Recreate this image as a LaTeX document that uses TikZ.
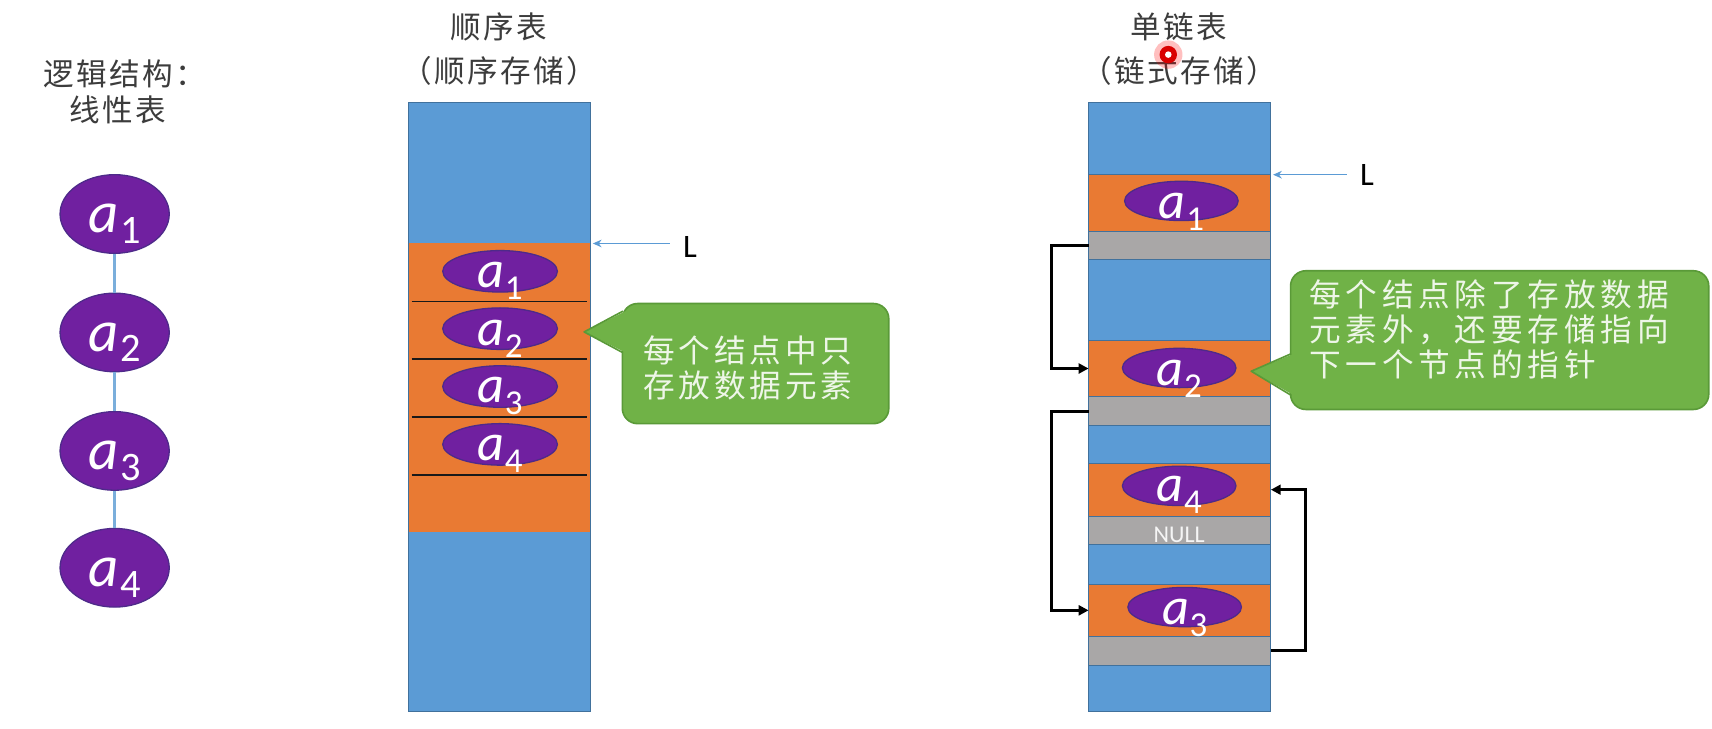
\documentclass[tikz,border=0pt]{standalone}
\usepackage{fontspec}
\setmainfont{Carlito}
\newfontfamily\cjkT[LetterSpace=8]{Noto Sans CJK SC}
\newfontfamily\cjkA[LetterSpace=12]{Noto Sans CJK SC}
\newfontfamily\cjkB[LetterSpace=15]{Noto Sans CJK SC}
\usetikzlibrary{shapes.geometric,arrows.meta}
\definecolor{cblue}{HTML}{5B9BD5}
\definecolor{cbord}{HTML}{41719C}
\definecolor{corange}{HTML}{E97A33}
\definecolor{cgray}{HTML}{A9A7A7}
\definecolor{cpurple}{HTML}{7020A0}
\definecolor{cpurpled}{HTML}{4E2A8A}
\definecolor{cgreen}{HTML}{70B247}
\definecolor{cgreend}{HTML}{5A9A38}
\definecolor{ctext}{HTML}{3C3C3C}
\definecolor{ccall}{HTML}{EEF6E8}
\definecolor{cline}{HTML}{7AAEDB}
\newcommand\bigA[1]{{\fontsize{54}{54}\selectfont\itshape a\upshape\kern1pt\raisebox{-10pt}{\fontsize{37}{37}\selectfont #1}}}
\newcommand\midA[1]{{\fontsize{48}{48}\selectfont\itshape a\upshape\kern0.5pt\raisebox{-11pt}{\fontsize{32}{32}\selectfont #1}}}
\tikzset{
  cell/.style={draw=cbord, line width=0.8pt, minimum width=167pt, inner sep=0pt, outer sep=0pt},
  bluec/.style={cell, fill=cblue},
  orangec/.style={cell, fill=corange},
  grayc/.style={cell, fill=cgray},
  bigell/.style={ellipse, fill=cpurple, draw=cpurpled, line width=1.2pt, inner sep=0pt, minimum width=100pt, minimum height=72pt},
  midell/.style={ellipse, fill=cpurple, draw=cpurpled, line width=1.2pt, inner sep=0pt, minimum width=105pt, minimum height=38pt},
  linkell/.style={midell, minimum width=104pt, minimum height=36pt},
  lab/.style={text=white, inner sep=0pt, anchor=base},
  title/.style={text=ctext, inner sep=0pt, font=\cjkT\fontsize{28}{34}\selectfont},
  vline/.style={draw=cline, line width=2.5pt},
  sepline/.style={draw=black!90, line width=1.5pt},
  larrow/.style={draw=cblue, line width=1.3pt, -{Stealth[length=8pt,width=7pt]}},
  link/.style={draw=black, line width=2.6pt, -{Triangle[length=9pt,width=9pt]}},
  callbox/.style={fill=cgreen, draw=cgreend, line width=1.5pt, rounded corners=14pt},
  calltext/.style={text=ccall, inner sep=0pt, align=left, anchor=west},
  Lnode/.style={inner sep=0pt, font=\fontsize{30}{30}\selectfont}
}
\begin{document}
\begin{tikzpicture}[x=1pt,y=-1pt]
\fill[white] (0,0) rectangle (1568,667);
\useasboundingbox (0,0) rectangle (1568,667);

% ---------- left: logical structure ----------
\node[title] (tl1) at (114,68) {逻辑结构：};
\node[title] (tl2) at (108,101) {线性表};
\node[bigell] (l1) at (105,196) {};
\node[bigell] (l2) at (105,304.5) {};
\node[bigell] (l3) at (105,413) {};
\node[bigell] (l4) at (105,520) {};
\draw[vline] (l1.south) -- (l2.north);
\draw[vline] (l2.south) -- (l3.north);
\draw[vline] (l3.south) -- (l4.north);
\node[lab] (lt1) at ([yshift=-17pt]l1.center) {\bigA{1}};
\node[lab] (lt2) at ([yshift=-17pt]l2.center) {\bigA{2}};
\node[lab] (lt3) at ([yshift=-17pt]l3.center) {\bigA{3}};
\node[lab] (lt4) at ([yshift=-17pt]l4.center) {\bigA{4}};

% ---------- middle: sequential storage ----------
\node[title] (ts1) at (457,25) {顺序表};
\node[title] (ts2) at (457,65) {（顺序存储）};
\node[bluec, minimum height=129pt] (sb0) at (457.5,158.5) {};
\node[bluec, minimum height=165pt] (sb1) at (457.5,569.5) {};
\node[orangec, draw=none, minimum height=264pt] (so) at (457.5,355) {};
\draw[cbord, line width=0.8pt] (so.north west) -- (so.south west) (so.north east) -- (so.south east);
\draw[sepline] (377,276) -- (538,276);
\draw[sepline] (377,329) -- (538,329);
\draw[sepline] (377,382) -- (538,382);
\draw[sepline] (377,435) -- (538,435);
\node[midell] (s1) at (458,248.5) {};
\node[midell] (s2) at (458,301) {};
\node[midell] (s3) at (458,354) {};
\node[midell] (s4) at (458,407) {};
\node[lab] (st1) at ([yshift=-15pt]s1.center) {\midA{1}};
\node[lab] (st2) at ([yshift=-15pt]s2.center) {\midA{2}};
\node[lab] (st3) at ([yshift=-15pt]s3.center) {\midA{3}};
\node[lab] (st4) at ([yshift=-15pt]s4.center) {\midA{4}};
\node[Lnode] (L1) at (632,226) {L};
\draw[larrow, shorten >=2pt] ([xshift=-12pt]L1.west |- so.north east) -- (so.north east);
% callout 1
\node[callbox, minimum width=244pt, minimum height=110pt, inner sep=0pt] (c1) at (692,333) {};
\fill[cgreen] (535,304) -- (573,285) -- (573,323) -- cycle;
\draw[cgreend, line width=1.5pt, line join=round] (570.5,285) -- (535,304) -- (570.5,323);
\node[calltext, font=\cjkA\fontsize{29}{31.5}\selectfont] (c1t) at (589,337) {每个结点中只\\存放数据元素};

% ---------- right: linked storage ----------
\node[title] (tr1) at (1080,25) {单链表};
\node[title] (tr2) at (1080,65) {（链式存储）};
\node[bluec, minimum height=66pt] (b0) at (1080.5,127) {};
\node[orangec, minimum height=52pt] (o1) at (1080.5,186) {};
\node[grayc, minimum height=26pt] (g1) at (1080.5,225) {};
\node[bluec, minimum height=74pt] (b1) at (1080.5,275) {};
\node[orangec, minimum height=51pt] (o2) at (1080.5,337.5) {};
\node[grayc, minimum height=27pt] (g2) at (1080.5,376.5) {};
\node[bluec, minimum height=34pt] (b2) at (1080.5,407) {};
\node[orangec, minimum height=49pt] (o4) at (1080.5,448.5) {};
\node[grayc, minimum height=26pt] (g4) at (1080.5,486) {};
\node[bluec, minimum height=36pt] (b3) at (1080.5,517) {};
\node[orangec, minimum height=48pt] (o3) at (1080.5,559) {};
\node[grayc, minimum height=26pt] (g3) at (1080.5,596) {};
\node[bluec, minimum height=43pt] (b4) at (1080.5,630.5) {};
\node[linkell] (r1) at (1082,184) {};
\node[linkell] (r2) at (1080,337) {};
\node[linkell] (r4) at (1080,445) {};
\node[linkell] (r3) at (1085,556) {};
\node[lab] (rt1) at ([yshift=-16pt]r1.center) {\midA{1}};
\node[lab] (rt2) at ([yshift=-16pt]r2.center) {\midA{2}};
\node[lab] (rt4) at ([yshift=-14pt]r4.center) {\midA{4}};
\node[lab] (rt3) at ([yshift=-16pt]r3.center) {\midA{3}};
\node[inner sep=0pt, text=white!92!gray, font=\fontsize{22}{22}\selectfont] (null) at (1080,489.5) {NULL};
\node[Lnode] (L2) at (1252,160) {L};
\draw[larrow, shorten >=2pt] ([xshift=-12pt]L2.west |- o1.north east) -- (o1.north east);
\draw[link] (g1.west) -- ++(-34,0) |- (o2.west);
\draw[link] (g2.west) -- ++(-34,0) |- (o3.west);
\draw[link] (g3.east) -- ++(32,0) |- (o4.east);
% callout 2
\node[callbox, minimum width=383pt, minimum height=127pt, inner sep=0pt] (c2) at (1373.5,311.5) {};
\fill[cgreen] (1146,340) -- (1185,324) -- (1185,362) -- cycle;
\draw[cgreend, line width=1.5pt, line join=round] (1182.5,324) -- (1146,340) -- (1182.5,362);
\node[calltext, font=\cjkB\fontsize{29}{32}\selectfont] (c2t) at (1199,302) {每个结点除了存放数据\\元素外，还要存储指向\\下一个节点的指针};

% laser pointer dot
\fill[red, opacity=0.25] (1070,50) circle (13);
\fill[red!85!black] (1070,50) circle (8);
\fill[white] (1070,50) circle (3);
\end{tikzpicture}
\end{document}
